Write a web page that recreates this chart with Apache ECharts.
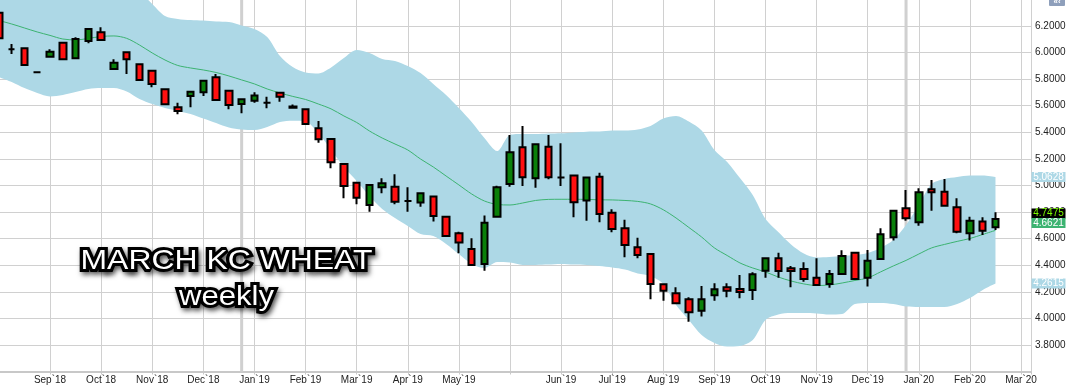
<!DOCTYPE html>
<html><head><meta charset="utf-8">
<script src="https://cdn.jsdelivr.net/npm/echarts@6/dist/echarts.min.js"></script>
<style>html,body{margin:0;padding:0;background:#fff}#c{width:1068px;height:385px}</style>
</head><body><div id="c"></div><script>
// weekly candles, one per week (week ending Fri, first = 2018-08-24): [open, close, low, high]
const ohlc = [
[6.300,6.107,6.095,6.320],[6.025,6.025,5.989,6.065],[6.032,5.907,5.900,6.040],[5.852,5.852,5.850,5.854],
[5.969,6.007,5.969,6.025],[6.074,5.949,5.945,6.080],[5.957,6.102,5.955,6.115],[6.087,6.177,6.070,6.180],
[6.153,6.095,6.093,6.190],[5.876,5.924,5.874,5.949],[6.002,5.949,5.839,6.005],[5.912,5.794,5.790,5.915],
[5.864,5.764,5.739,5.866],[5.724,5.611,5.609,5.726],[5.588,5.560,5.536,5.623],[5.673,5.706,5.588,5.708],
[5.701,5.788,5.673,5.790],[5.814,5.643,5.640,5.839],[5.713,5.606,5.573,5.715],[5.613,5.649,5.543,5.650],
[5.638,5.676,5.623,5.701],[5.623,5.623,5.581,5.668],[5.698,5.668,5.630,5.700],[5.595,5.585,5.580,5.610],
[5.573,5.463,5.460,5.580],[5.430,5.348,5.322,5.485],[5.350,5.174,5.129,5.352],[5.162,4.996,4.904,5.165],
[5.021,4.908,4.858,5.025],[4.853,5.004,4.803,5.006],[4.986,5.017,4.941,5.054],[4.991,4.878,4.858,5.084],
[4.883,4.883,4.803,4.986],[4.871,4.941,4.840,4.945],[4.916,4.770,4.728,4.920],[4.765,4.620,4.615,4.770],
[4.640,4.570,4.490,4.652],[4.522,4.402,4.398,4.603],[4.409,4.720,4.359,4.773],[4.765,4.986,4.760,4.998],
[5.011,5.250,4.991,5.380],[5.288,5.062,4.996,5.448],[5.054,5.310,4.983,5.315],[5.292,5.062,5.047,5.380],
[5.059,5.059,4.996,5.318],[5.074,4.874,4.761,5.078],[4.886,5.059,4.735,5.063],[5.066,4.785,4.723,5.096],
[4.795,4.673,4.648,4.821],[4.678,4.552,4.460,4.741],[4.535,4.477,4.452,4.607],[4.485,4.259,4.144,4.490],
[4.257,4.208,4.133,4.260],[4.189,4.114,4.112,4.234],[4.144,4.046,3.975,4.159],[4.058,4.144,4.013,4.244],
[4.174,4.219,4.133,4.264],[4.234,4.208,4.159,4.264],[4.221,4.199,4.151,4.326],[4.214,4.332,4.138,4.347],
[4.359,4.452,4.306,4.460],[4.452,4.357,4.306,4.494],[4.377,4.357,4.234,4.394],[4.372,4.296,4.276,4.422],
[4.306,4.251,4.248,4.452],[4.259,4.334,4.231,4.364],[4.334,4.469,4.330,4.512],[4.494,4.296,4.290,4.500],
[4.306,4.434,4.239,4.515],[4.447,4.633,4.440,4.678],[4.610,4.810,4.585,4.815],[4.828,4.753,4.735,4.966],
[4.723,4.949,4.697,4.979],[4.971,4.949,4.810,5.041],[4.953,4.848,4.845,5.049],[4.836,4.652,4.640,4.904],
[4.640,4.735,4.585,4.765],[4.728,4.660,4.627,4.761],[4.685,4.7475,4.665,4.798]
];
const movingAvg = [
6.241,6.215,6.185,6.155,6.129,6.102,6.095,6.106,6.121,6.125,6.107,6.057,5.997,5.944,5.903,5.884,
5.869,5.850,5.824,5.794,5.764,5.726,5.696,5.670,5.647,5.613,5.576,5.523,5.474,5.410,5.357,5.312,
5.267,5.199,5.139,5.071,5.004,4.936,4.883,4.857,4.853,4.868,4.887,4.895,4.896,4.896,4.895,4.892,
4.891,4.887,4.880,4.861,4.817,4.755,4.684,4.612,4.530,4.473,4.417,4.379,4.349,4.311,4.281,4.259,
4.247,4.251,4.266,4.285,4.304,4.349,4.394,4.436,4.484,4.530,4.556,4.579,4.601,4.631,4.6621
];
const upperBand = [
6.667,6.651,6.636,6.614,6.588,6.524,6.486,6.486,6.509,6.516,6.509,6.456,6.366,6.275,6.253,6.245,
6.241,6.234,6.230,6.204,6.177,6.117,5.974,5.891,5.850,5.843,5.888,5.959,6.019,5.997,5.952,5.937,
5.899,5.846,5.764,5.681,5.583,5.478,5.357,5.259,5.380,5.387,5.387,5.391,5.393,5.399,5.405,5.406,
5.414,5.414,5.421,5.448,5.504,5.523,5.481,5.414,5.267,5.177,5.056,4.928,4.748,4.650,4.556,4.488,
4.458,4.462,4.469,4.477,4.492,4.530,4.590,4.703,4.853,5.011,5.049,5.064,5.075,5.075,5.0628
];
const lowerBand = [
5.816,5.779,5.733,5.696,5.670,5.681,5.703,5.726,5.733,5.733,5.707,5.651,5.613,5.583,5.560,5.538,
5.504,5.470,5.436,5.421,5.417,5.440,5.478,5.487,5.481,5.395,5.267,5.139,5.034,4.921,4.823,4.755,
4.695,4.635,4.620,4.560,4.484,4.409,4.379,4.424,4.420,4.402,4.402,4.405,4.409,4.405,4.402,4.394,
4.383,4.368,4.338,4.319,4.259,4.101,3.988,3.875,3.815,3.788,3.792,3.837,3.988,4.029,4.040,4.040,
4.037,4.029,4.033,4.108,4.116,4.116,4.108,4.089,4.086,4.086,4.086,4.108,4.153,4.214,4.2615
];
// one label per 4-week gridline (week index 0,4,8,...,80)
const monthLabels = ['', 'Sep`18','Oct`18','Nov`18','Dec`18','Jan`19','Feb`19','Mar`19','Apr`19','May`19','',
  'Jun`19','Jul`19','Aug`19','Sep`19','Oct`19','Nov`19','Dec`19','Jan`20','Feb`20','Mar`20'];
const yearStartWeeks = [19, 71];
const titleLines = ['MARCH KC WHEAT', 'weekly'];

const X_MAX = 80.78, Y_MIN = 3.6, Y_MAX = 6.4;
const FONT = '"Liberation Sans", Arial, sans-serif';
const n = ohlc.length;
const last = n - 1;

function tag(value, bg, fg, dy) {
  return {
    coord: [X_MAX, value], value: value,
    symbol: 'rect', symbolSize: [34, 10], symbolOffset: [17.5, dy],
    itemStyle: { color: bg },
    label: { show: true, position: 'inside', color: fg, fontSize: 10, fontFamily: FONT,
      formatter: p => Number(p.value).toFixed(4) }
  };
}

// year separator lines, drawn underneath the band
const yearLineSeries = yearStartWeeks.map(w => ({
  type: 'line', silent: true, showSymbol: false, z: 1,
  data: [[w, Y_MIN], [w, Y_MAX]],
  lineStyle: { color: '#d0d0d0', width: 3 }
}));

const chart = echarts.init(document.getElementById('c'), null, { renderer: 'canvas' });
chart.setOption({
  animation: false,
  backgroundColor: '#ffffff',
  grid: { left: -1.1, right: 37, top: -0.6, bottom: 13.5, containLabel: false, outerBoundsMode: 'none' },
  xAxis: {
    type: 'value', min: 0, max: X_MAX, interval: 4,
    axisLine: { show: true, lineStyle: { color: '#c8c8c8', width: 2 } },
    axisTick: { show: true, length: 3, lineStyle: { color: '#c8c8c8' } },
    splitLine: { show: true, lineStyle: { color: '#d0d0d0', width: 1 } },
    axisLabel: { interval: 0, fontSize: 10, fontFamily: FONT, color: '#222', margin: 4,
      formatter: v => (Number.isInteger(v / 4) ? (monthLabels[v / 4] || '') : '') }
  },
  yAxis: {
    type: 'value', position: 'right', min: Y_MIN, max: Y_MAX, interval: 0.2,
    axisLine: { show: true, lineStyle: { color: '#c8c8c8', width: 2 } },
    axisTick: { show: false },
    splitLine: { show: true, lineStyle: { color: '#d0d0d0', width: 1 } },
    axisLabel: { fontSize: 10, fontFamily: FONT, color: '#222', margin: 4,
      showMinLabel: false, showMaxLabel: false, formatter: v => v.toFixed(4) }
  },
  series: yearLineSeries.concat([
    {
      type: 'line', name: 'lower', stack: 'band', smooth: 0.3, showSymbol: false, silent: true, z: 2,
      // value first so that the stack runs on the price dimension
      data: lowerBand.map((v, i) => [v, i]), encode: { x: 1, y: 0 },
      lineStyle: { opacity: 0 }
    },
    {
      type: 'line', name: 'band', stack: 'band', smooth: 0.3, showSymbol: false, silent: true, z: 2,
      data: upperBand.map((v, i) => [v - lowerBand[i], i]), encode: { x: 1, y: 0 },
      lineStyle: { opacity: 0 },
      areaStyle: { color: '#add8e6', opacity: 1 }
    },
    {
      type: 'line', name: 'ma', smooth: 0.3, showSymbol: false, silent: true, z: 3,
      data: movingAvg.map((v, i) => [i, v]),
      lineStyle: { color: '#3cb371', width: 1 },
      markPoint: {
        silent: true, z: 10,
        data: [
          tag(upperBand[last], '#add8e6', '#ffffff', 0),
          tag(ohlc[last][1], '#000000', '#7cfc00', -5.5),
          tag(movingAvg[last], '#3cb371', '#ffffff', -7.3),
          tag(lowerBand[last], '#add8e6', '#ffffff', 0)
        ]
      }
    },
    {
      type: 'candlestick', name: 'price', clip: false, barWidth: 7, silent: true, z: 4,
      data: ohlc.map((d, i) => [i, d[0], d[1], d[2], d[3]]),
      itemStyle: {
        color: '#0a800a', color0: '#ff1010',
        borderColor: '#000', borderColor0: '#000', borderColorDoji: '#000',
        borderWidth: 2
      }
    }
  ]),
  graphic: [
    { type: 'text', x: 226.5, y: 261.5, scaleX: 1.14, z: 100,
      style: { text: titleLines[0], x: 0, y: 0, font: '28px ' + FONT, fill: '#ffffff',
        stroke: '#000000', lineWidth: 6, align: 'center', verticalAlign: 'middle',
        textAlign: 'center', textVerticalAlign: 'middle',
        textShadowColor: 'rgba(0,0,0,0.55)', textShadowBlur: 5, textShadowOffsetX: 2, textShadowOffsetY: 3 } },
    { type: 'text', x: 226.5, y: 297, scaleX: 1.11, z: 100,
      style: { text: titleLines[1], x: 0, y: 0, font: '28px ' + FONT, fill: '#ffffff',
        stroke: '#000000', lineWidth: 6, align: 'center', verticalAlign: 'middle',
        textAlign: 'center', textVerticalAlign: 'middle',
        textShadowColor: 'rgba(0,0,0,0.55)', textShadowBlur: 5, textShadowOffsetX: 2, textShadowOffsetY: 3 } },
    { type: 'rect', x: 1049, y: -3, z: 100, shape: { width: 16, height: 9, r: 1 },
      style: { fill: '#8e9fbb' } },
    { type: 'text', x: 1057, y: 1.5, z: 101,
      style: { text: '«‹', x: 0, y: 0, font: 'bold 8px ' + FONT, fill: '#ffffff', align: 'center', verticalAlign: 'middle',
        textAlign: 'center', textVerticalAlign: 'middle' } }
  ]
});
</script></body></html>
